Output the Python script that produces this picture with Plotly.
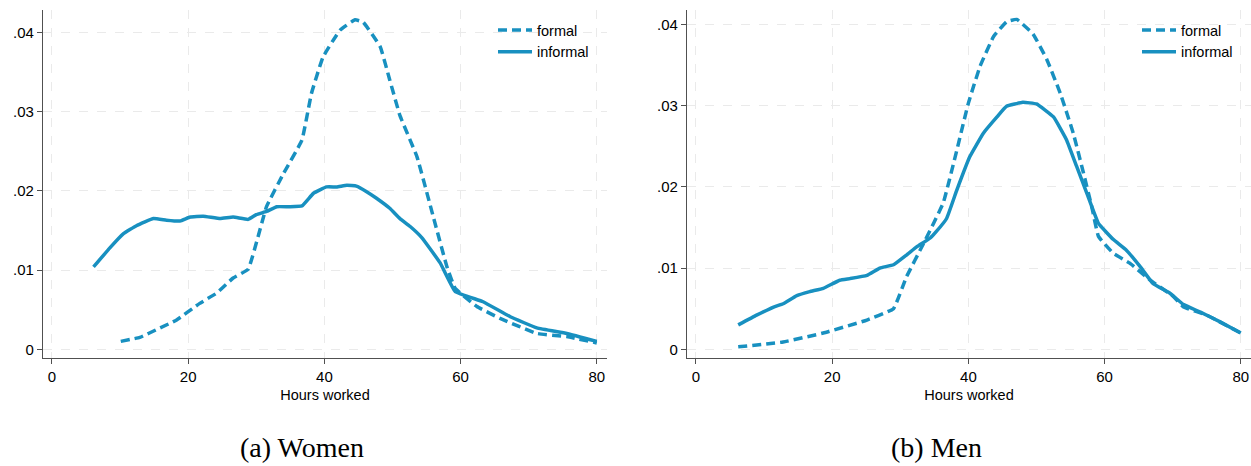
import plotly.graph_objects as go

# Kernel density of weekly hours worked, by formality status
women_formal_hours = [10.1, 12.9, 15.4, 18.3, 21.7, 24.2, 26.6, 28.8, 31.5, 34.0, 36.7, 38.1,
                      39.8, 42.3, 44.5, 45.7, 48.2, 49.6, 51.1, 53.6, 56.0, 58.0, 59.2, 62.4,
                      65.8, 71.2, 75.6, 80.0]
women_formal_density = [0.0010, 0.0015, 0.0025, 0.0037, 0.0058, 0.0071, 0.0090, 0.0101, 0.0180,
                        0.0222, 0.0264, 0.0323, 0.0369, 0.0403, 0.0416, 0.0413, 0.0382, 0.0340,
                        0.0295, 0.0243, 0.0167, 0.0104, 0.0077, 0.0054, 0.0039, 0.0020, 0.0016,
                        0.0008]

women_informal_hours = [6.1, 8.5, 10.5, 12.4, 14.9, 16.8, 18.8, 20.3, 22.2, 24.7, 26.6, 28.8,
                        30.0, 31.5, 33.0, 34.9, 36.7, 38.4, 40.3, 41.8, 43.3, 44.7, 46.2, 47.6,
                        49.6, 51.1, 52.6, 54.3, 57.0, 59.2, 63.3, 67.3, 71.2, 75.6, 80.0]
women_informal_density = [0.0104, 0.0128, 0.0146, 0.0156, 0.0165, 0.0163, 0.0162, 0.0167, 0.0168,
                          0.0165, 0.0167, 0.0164, 0.0170, 0.0174, 0.0180, 0.0180, 0.0181, 0.0197,
                          0.0205, 0.0205, 0.0207, 0.0206, 0.0199, 0.0191, 0.0178, 0.0165, 0.0155,
                          0.0141, 0.0109, 0.0073, 0.0060, 0.0041, 0.0027, 0.0020, 0.0010]

men_formal_hours = [6.2, 12.8, 18.7, 25.1, 29.0, 30.9, 33.4, 36.3, 38.3, 40.0, 41.7, 43.7, 45.6,
                    47.1, 49.5, 51.5, 53.5, 55.4, 56.9, 58.1, 59.1, 61.3, 63.7, 66.7, 70.1, 71.6,
                    75.0, 80.0]
men_formal_density = [0.0003, 0.0009, 0.0020, 0.0036, 0.0050, 0.0089, 0.0130, 0.0180, 0.0245,
                      0.0303, 0.0348, 0.0385, 0.0403, 0.0406, 0.0388, 0.0357, 0.0315, 0.0266,
                      0.0217, 0.0176, 0.0139, 0.0118, 0.0106, 0.0085, 0.0065, 0.0052, 0.0042,
                      0.0020]

men_informal_hours = [6.2, 8.9, 11.4, 12.8, 14.8, 16.7, 18.7, 21.1, 22.6, 25.1, 27.0, 29.0, 30.9,
                      32.4, 34.4, 35.3, 36.8, 38.3, 40.2, 42.2, 44.2, 45.6, 48.0, 50.0, 52.5,
                      54.4, 55.9, 57.4, 59.1, 61.3, 63.2, 65.2, 67.1, 69.6, 71.6, 74.0, 76.9, 80.0]
men_informal_density = [0.0030, 0.0042, 0.0052, 0.0056, 0.0066, 0.0071, 0.0075, 0.0085, 0.0087,
                        0.0091, 0.0100, 0.0104, 0.0116, 0.0126, 0.0137, 0.0145, 0.0161, 0.0196,
                        0.0237, 0.0266, 0.0286, 0.0299, 0.0304, 0.0302, 0.0286, 0.0258, 0.0225,
                        0.0192, 0.0155, 0.0135, 0.0122, 0.0102, 0.0081, 0.0069, 0.0055, 0.0046,
                        0.0034, 0.0020]

x_ticks = [0, 20, 40, 60, 80]
y_ticks = [0, 0.01, 0.02, 0.03, 0.04]
y_tick_labels = ["0", ".01", ".02", ".03", ".04"]
panel_titles = ["(a) Women", "(b) Men"]
x_title = "Hours worked"

LINE = "rgb(24,144,192)"
GRID = "rgb(234,234,234)"
AXIS = "rgb(80,80,80)"
FONT = "Liberation Sans, Arial, sans-serif"
W, H = 1251, 466

fig = go.Figure()

panels = [
    dict(xd=(43, 607), formal=(women_formal_hours, women_formal_density),
         informal=(women_informal_hours, women_informal_density),
         yr=(-0.00114, 0.04284), legend="legend", xa="x", ya="y", cap_x=302),
    dict(xd=(687, 1251), formal=(men_formal_hours, men_formal_density),
         informal=(men_informal_hours, men_informal_density),
         yr=(-0.00111, 0.04176), legend="legend2", xa="x2", ya="y2", cap_x=936),
]

top_px, bottom_px = 10, 358.3
for i, p in enumerate(panels):
    fig.add_trace(go.Scatter(x=p["formal"][0], y=p["formal"][1], mode="lines", name="formal",
                             line=dict(color=LINE, width=3.5, dash="9px,5px", shape="spline",
                                       smoothing=0.3),
                             xaxis=p["xa"], yaxis=p["ya"], legend=p["legend"]))
    fig.add_trace(go.Scatter(x=p["informal"][0], y=p["informal"][1], mode="lines",
                             name="informal",
                             line=dict(color=LINE, width=3.5, shape="spline", smoothing=0.3),
                             xaxis=p["xa"], yaxis=p["ya"], legend=p["legend"]))

    sfx = "" if i == 0 else "2"
    axis_common = dict(showline=True, linecolor=AXIS, linewidth=1.2, ticks="outside",
                       ticklen=5, tickcolor=AXIS, tickwidth=1.2, showgrid=True,
                       gridcolor=GRID, gridwidth=1, griddash="dash", zeroline=False,
                       tickfont=dict(family=FONT, size=15, color="black"))
    fig.layout["xaxis" + sfx] = dict(
        domain=[p["xd"][0] / W, p["xd"][1] / W], range=[-1.32, 81.5],
        tickvals=x_ticks, anchor="y" + sfx,
        title=dict(text=x_title, font=dict(family=FONT, size=14.5, color="black"),
                   standoff=5),
        **axis_common)
    fig.layout["yaxis" + sfx] = dict(
        domain=[1 - bottom_px / H, 1 - top_px / H], range=list(p["yr"]),
        tickvals=y_ticks, ticktext=y_tick_labels, anchor="x" + sfx,
        **axis_common)

    fig.layout[p["legend"]] = dict(
        x=(p["xd"][1] - 114) / W, y=1 - 14 / H, xanchor="left", yanchor="top",
        bgcolor="rgba(0,0,0,0)", font=dict(family=FONT, size=14.5, color="black"),
        tracegroupgap=0, itemwidth=34)

    fig.add_annotation(text=panel_titles[i], xref="paper", yref="paper",
                       x=p["cap_x"] / W, y=1 - 447 / H,
                       xanchor="center", yanchor="middle", showarrow=False,
                       font=dict(family="Liberation Serif, Times New Roman, serif", size=28,
                                 color="black"))

fig.update_layout(width=W, height=H, margin=dict(l=0, r=0, t=0, b=0),
                  paper_bgcolor="white", plot_bgcolor="white")

fig.write_html("out.html")
